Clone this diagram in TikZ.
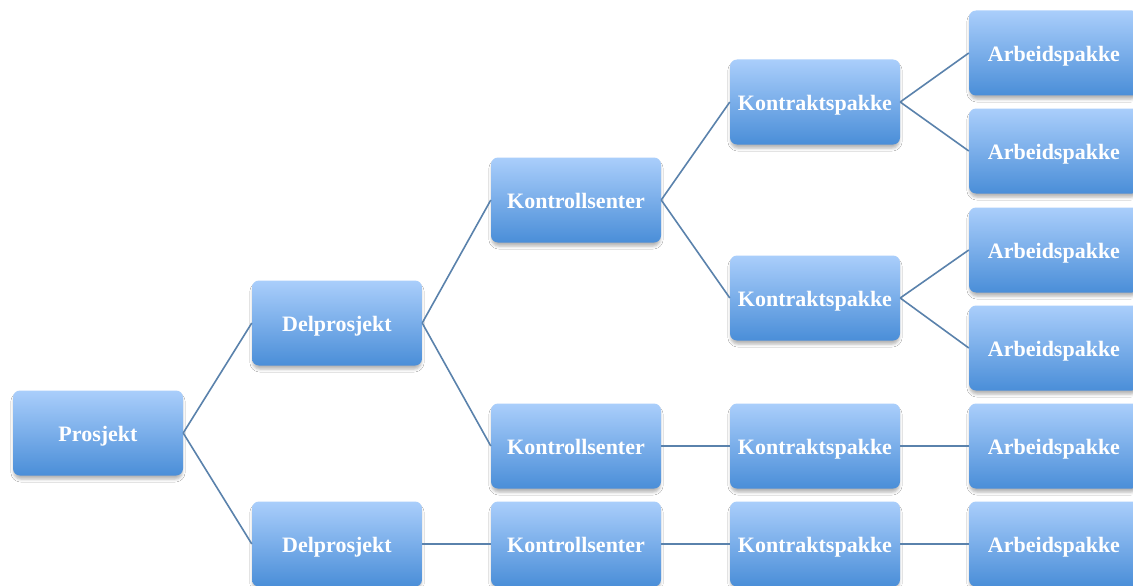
\documentclass[tikz,border=0pt]{standalone}
\usepackage{fontspec}
\setmainfont{Liberation Serif}
\usetikzlibrary{shadows.blur}
\definecolor{boxtop}{RGB}{170,206,251}
\definecolor{boxbot}{RGB}{74,142,216}
\definecolor{linkcol}{RGB}{90,130,172}
\begin{document}
\begin{tikzpicture}[x=1pt,y=-1pt,
  wbs/.style={rectangle, rounded corners=7pt, minimum width=170pt, minimum height=85pt,
    inner sep=0pt, text height=17pt, text depth=0pt,
    top color=boxtop, bottom color=boxbot, draw=none, text=white,
    font=\fontsize{22}{24}\selectfont\bfseries,
    blur shadow={shadow xshift=0pt, shadow yshift=-4pt, shadow blur radius=3pt,
      shadow blur extra rounding=2pt, shadow scale=0.99, shadow opacity=30}},
  link/.style={draw=linkcol, line width=1.6pt}]
\clip (0,0) rectangle (1133,586);
\fill[white] (0,0) rectangle (1133,586);

% level 0
\node[wbs] (p)   at (98,433)  {Prosjekt};
% level 1
\node[wbs] (d1)  at (337,323) {Delprosjekt};
\node[wbs] (d2)  at (337,544) {Delprosjekt};
% level 2
\node[wbs] (k1)  at (576,200) {Kontrollsenter};
\node[wbs] (k2)  at (576,446) {Kontrollsenter};
\node[wbs] (k3)  at (576,544) {Kontrollsenter};
% level 3
\node[wbs] (c1)  at (815,102) {Kontraktspakke};
\node[wbs] (c2)  at (815,298) {Kontraktspakke};
\node[wbs] (c3)  at (815,446) {Kontraktspakke};
\node[wbs] (c4)  at (815,544) {Kontraktspakke};
% level 4
\node[wbs] (a1)  at (1054,53)  {Arbeidspakke};
\node[wbs] (a2)  at (1054,151) {Arbeidspakke};
\node[wbs] (a3)  at (1054,250) {Arbeidspakke};
\node[wbs] (a4)  at (1054,348) {Arbeidspakke};
\node[wbs] (a5)  at (1054,446) {Arbeidspakke};
\node[wbs] (a6)  at (1054,544) {Arbeidspakke};

% connectors
\draw[link] (p.east) -- (d1.west);
\draw[link] (p.east) -- (d2.west);
\draw[link] (d1.east) -- (k1.west);
\draw[link] (d1.east) -- (k2.west);
\draw[link] (d2.east) -- (k3.west);
\draw[link] (k1.east) -- (c1.west);
\draw[link] (k1.east) -- (c2.west);
\draw[link] (k2.east) -- (c3.west);
\draw[link] (k3.east) -- (c4.west);
\draw[link] (c1.east) -- (a1.west);
\draw[link] (c1.east) -- (a2.west);
\draw[link] (c2.east) -- (a3.west);
\draw[link] (c2.east) -- (a4.west);
\draw[link] (c3.east) -- (a5.west);
\draw[link] (c4.east) -- (a6.west);
\end{tikzpicture}
\end{document}
